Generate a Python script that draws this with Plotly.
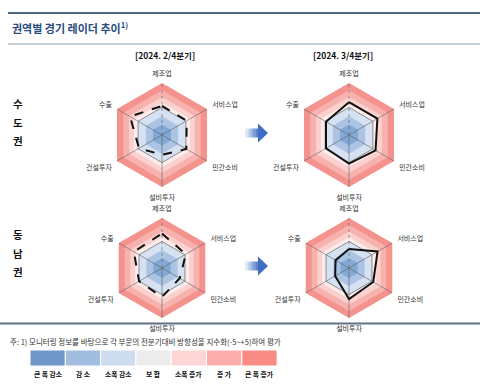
import plotly.graph_objects as go

# ---------------- data ----------------
categories = ["제조업", "서비스업", "민간소비", "설비투자", "건설투자", "수출"]
angles = [0, 60, 120, 180, 240, 300]

sudo_q2 = [5.6, 5.5, 5.4, 3.8, 5.1, 7.1]      # 수도권 2024.2/4 (dashed)
sudo_q3 = [6.3, 6.3, 5.9, 5.5, 5.1, 5.1]      # 수도권 2024.3/4 (solid)
dongnam_q2 = [6.9, 5.5, 4.1, 5.8, 5.3, 6.5]   # 동남권 2024.2/4 (dashed)
dongnam_q3 = [3.8, 6.6, 5.6, 6.2, 3.2, 3.1]   # 동남권 2024.3/4 (solid)

period_labels = ["[2024. 2/4분기]", "[2024. 3/4분기]"]
region_labels = ["수도권", "동남권"]
legend_labels = ["큰 폭 감소", "감 소", "소폭 감소", "보 합", "소폭 증가", "증 가", "큰 폭 증가"]
legend_colors = ["#6f98c8", "#a1bde0", "#cddcee", "#ececec", "#fdd5d5", "#fcaeae", "#f98a84"]

band_levels = [10, 8.6, 7.3, 6.2, 5.3, 3.6, 2.0]
band_colors = ["#f4938e", "#f8b2ae", "#fbd1cf", "#fdeceb", "#d6e2f1", "#abc4e3", "#83a8d5"]

FONT = "Noto Sans CJK KR"
W, H = 500, 385


def px(x):
    return x / W


def py(y):
    return 1 - y / H


fig = go.Figure()

panels = [
    (162, 135, 52, sudo_q2, "dash"),
    (349, 135, 52, sudo_q3, "solid"),
    (162, 268, 50, dongnam_q2, "dash"),
    (349, 268, 50, dongnam_q3, "solid"),
]

th_closed = angles + [angles[0]]
for i, (cx, cy, R, vals, dash) in enumerate(panels):
    key = "polar" if i == 0 else f"polar{i+1}"
    sub = key
    for lvl, col in zip(band_levels, band_colors):
        fig.add_trace(go.Scatterpolar(
            r=[lvl] * 7, theta=th_closed, mode="lines", fill="toself",
            fillcolor=col, line=dict(color=col, width=0), subplot=sub,
            hoverinfo="skip", showlegend=False))
    fig.add_trace(go.Scatterpolar(
        r=[band_levels[4]] * 7, theta=th_closed, mode="lines",
        line=dict(color="#8c8c8c", width=1), subplot=sub,
        hoverinfo="skip", showlegend=False))
    for a in angles:
        fig.add_trace(go.Scatterpolar(
            r=[0, 10], theta=[a, a], mode="lines",
            line=dict(color="#5f5f5f", width=0.6, dash="dot" if a == 0 else "solid"),
            subplot=sub, hoverinfo="skip", showlegend=False))
    fig.add_trace(go.Scatterpolar(
        r=vals + [vals[0]], theta=th_closed, mode="lines",
        line=dict(color="#111111", width=2, dash=dash), subplot=sub,
        showlegend=False))
    fig.layout[key] = dict(
        domain=dict(x=[px(cx - R), px(cx + R)], y=[py(cy + R), py(cy - R)]),
        bgcolor="rgba(0,0,0,0)",
        radialaxis=dict(visible=False, range=[0, 10]),
        angularaxis=dict(rotation=90, direction="clockwise", tickmode="array",
                         tickvals=angles, ticktext=categories, showline=False,
                         showgrid=False, ticks="outside", ticklen=4,
                         tickcolor="rgba(0,0,0,0)",
                         tickfont=dict(size=7, color="#333333", family=FONT)),
    )

shapes = []
shapes.append(dict(type="line", xref="paper", yref="paper", x0=px(8), x1=px(480),
                   y0=py(13), y1=py(13), line=dict(color="#55697f", width=2)))
shapes.append(dict(type="line", xref="paper", yref="paper", x0=px(8), x1=px(480),
                   y0=py(44), y1=py(44), line=dict(color="#8ea4bb", width=1)))
shapes.append(dict(type="line", xref="paper", yref="paper", x0=px(0), x1=px(480),
                   y0=py(323.5), y1=py(323.5), layer="below",
                   line=dict(color="#5e7288", width=2)))

arrow_shaft = ["#e3eaf6", "#c3d3ee", "#9fb8e2", "#7b9dd6", "#5a84cc"]
for ay in [133, 266]:
    x = 245
    for c in arrow_shaft:
        shapes.append(dict(type="rect", xref="paper", yref="paper",
                           x0=px(x), x1=px(x + 2.8), y0=py(ay + 4.5), y1=py(ay - 4.5),
                           fillcolor=c, line=dict(width=0)))
        x += 2.6
    shapes.append(dict(type="path", xref="paper", yref="paper",
                       path=f"M {px(258)} {py(ay-9.5)} L {px(268)} {py(ay)} L {px(258)} {py(ay+9.5)} Z",
                       fillcolor="#3f6fc2", line=dict(width=0)))

x0 = 30
bw = 35.3
for c in legend_colors:
    shapes.append(dict(type="rect", xref="paper", yref="paper",
                       x0=px(x0), x1=px(x0 + bw), y0=py(366), y1=py(350),
                       fillcolor=c, line=dict(color="#ffffff", width=1)))
    x0 += bw


def ann(text, x, y, size, color="#111111", xanchor="center"):
    return dict(text=text, x=px(x), y=py(y), xref="paper", yref="paper",
                xanchor=xanchor, yanchor="middle", showarrow=False,
                font=dict(size=size, color=color, family=FONT))


annotations = []
annotations.append(ann("<b>권역별 경기 레이더 추이<sup>1)</sup></b>", 10, 27, 11, "#2b4c7e", "left"))
for txt, xc in zip(period_labels, [165, 343]):
    annotations.append(ann(f"<b>{txt}</b>", xc, 55, 8.5))
for lab, yc in zip(region_labels, [122, 253]):
    for k, ch in enumerate(lab):
        annotations.append(ann(f"<b>{ch}</b>", 18, yc + (k - 1) * 18.5, 10.5))
annotations.append(ann("주: 1) 모니터링 정보를 바탕으로 각 부문의 전분기대비 방향성을 지수화(-5~+5)하여 평가",
                       8, 341, 7.5, "#333333", "left"))
x0 = 30
for lab in legend_labels:
    annotations.append(ann(f"<b>{lab}</b>", x0 + bw / 2, 373.5, 6.8))
    x0 += bw

fig.update_layout(
    width=W, height=H, margin=dict(l=0, r=0, t=0, b=0),
    paper_bgcolor="white", plot_bgcolor="white",
    shapes=shapes, annotations=annotations, showlegend=False,
    font=dict(family=FONT),
)

fig.write_html("out.html")
